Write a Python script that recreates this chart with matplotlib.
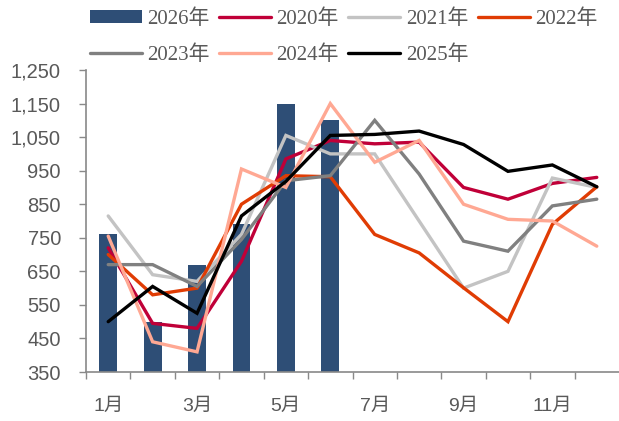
import matplotlib
matplotlib.use("Agg")
import matplotlib.pyplot as plt
import numpy as np
from matplotlib.ticker import FuncFormatter, FixedLocator

months = [f"{i}月" for i in range(1, 13)]
bar_label = "2026年"
bar_values = [760, 500, 670, 790, 1150, 1100]

series_labels = ["2020年", "2021年", "2022年", "2023年", "2024年", "2025年"]
s2020 = [720, 495, 480, 680, 985, 1040, 1030, 1035, 900, 865, 912, 930]
s2021 = [815, 640, 620, 760, 1055, 1000, 1000, 800, 600, 650, 928, 900]
s2022 = [700, 580, 600, 850, 935, 932, 760, 705, 601, 500, 790, 902]
s2023 = [670, 670, 605, 745, 920, 935, 1100, 940, 740, 710, 845, 865]
s2024 = [755, 440, 410, 955, 900, 1150, 975, 1040, 850, 805, 800, 725]
s2025 = [500, 605, 525, 815, 918, 1055, 1058, 1068, 1028, 948, 967, 902]
series = [s2020, s2021, s2022, s2023, s2024, s2025]
colors = ["#C00038", "#C3C3C3", "#E03C04", "#808080", "#FFA893", "#000000"]
bar_color = "#2E4E76"

yticks = list(range(350, 1251, 100))

plt.rcParams['font.family'] = ['Liberation Sans', 'Noto Sans CJK SC']
fig = plt.figure(figsize=(6.19, 4.21), dpi=100)
ax = fig.add_axes([86/619, (421-372)/421, (619-86)/619, (372-70)/421])

x = np.arange(12)
hb = ax.bar(x[:len(bar_values)], bar_values, width=0.4, color=bar_color, label=bar_label, zorder=1)
lines = []
for lab, vals, c in zip(series_labels, series, colors):
    ln, = ax.plot(x, vals, color=c, lw=2.4, label=lab, zorder=2, solid_joinstyle='miter',
                  solid_capstyle='round')
    lines.append(ln)

ax.set_xlim(-0.5, 11.5)
ax.set_ylim(350, 1250)
ax.set_yticks(yticks)
ax.yaxis.set_major_formatter(FuncFormatter(lambda v, p: f"{int(v):,}"))
ax.xaxis.set_major_locator(FixedLocator(np.arange(-0.5, 11.0, 1)))
ax.xaxis.set_minor_locator(FixedLocator(x[::2]))
ax.xaxis.set_major_formatter(FuncFormatter(lambda v, p: ""))
ax.set_xticklabels([months[i] for i in range(0, 12, 2)], minor=True)
ax.tick_params(axis='x', which='minor', length=0, pad=19, labelsize=14, colors='#595959')
ax.tick_params(axis='x', which='major', length=5, width=1, color='#898989', direction='out')
ax.tick_params(axis='y', length=5, width=1, color='#898989', labelsize=14.5, labelcolor='#595959',
               direction='out', pad=13)
for s in ['top', 'right']:
    ax.spines[s].set_visible(False)
for s in ['left', 'bottom']:
    ax.spines[s].set_color('#898989')
    ax.spines[s].set_linewidth(1.2)

all_h = [hb] + lines
all_l = [bar_label] + series_labels
order = [0, 4, 1, 5, 2, 6, 3]
fig.legend([all_h[i] for i in order], [all_l[i] for i in order],
           loc='upper left', bbox_to_anchor=(90/619, 1 - 9/421), ncol=4, frameon=False,
           prop={'family': ['Liberation Serif', 'Noto Sans CJK SC'], 'size': 15},
           labelcolor='#595959', handlelength=2.5, handleheight=0.55, handletextpad=0.25,
           columnspacing=0.45, labelspacing=0.8, borderpad=0, borderaxespad=0)

fig.savefig("out.png", dpi=100)
